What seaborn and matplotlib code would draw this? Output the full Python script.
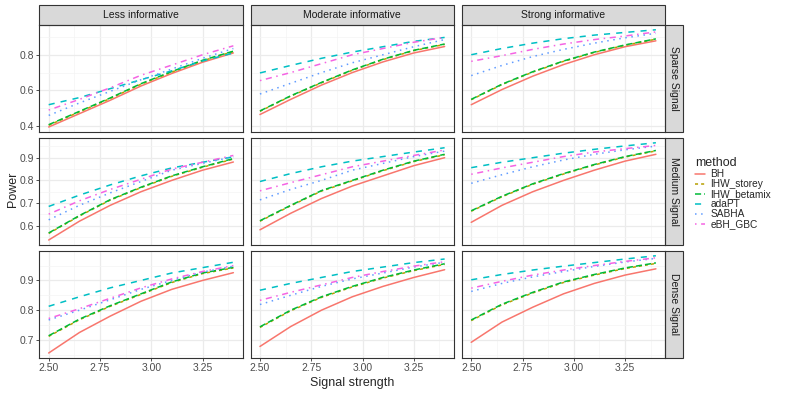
import numpy as np
import pandas as pd
import matplotlib
matplotlib.use("Agg")
import matplotlib.pyplot as plt
from matplotlib.lines import Line2D
from matplotlib.patches import Rectangle
from matplotlib.ticker import MultipleLocator, FormatStrFormatter
import seaborn as sns

# ---------------------------------------------------------------------------
# data
signal = [2.50, 2.65, 2.80, 2.95, 3.10, 3.25, 3.40]
methods = ["BH", "IHW_storey", "IHW_betamix", "adaPT", "SABHA", "eBH_GBC"]
informative = ["Less informative", "Moderate informative", "Strong informative"]
signal_types = ["Sparse Signal", "Medium Signal", "Dense Signal"]

sparse_less = {
    "BH":          [0.395, 0.470, 0.545, 0.625, 0.695, 0.758, 0.810],
    "IHW_storey":  [0.405, 0.480, 0.555, 0.635, 0.703, 0.766, 0.818],
    "IHW_betamix": [0.408, 0.483, 0.558, 0.638, 0.706, 0.769, 0.820],
    "adaPT":       [0.520, 0.560, 0.610, 0.660, 0.710, 0.765, 0.810],
    "SABHA":       [0.460, 0.530, 0.595, 0.660, 0.720, 0.780, 0.835],
    "eBH_GBC":     [0.490, 0.550, 0.615, 0.685, 0.742, 0.800, 0.850],
}
sparse_moderate = {
    "BH":          [0.465, 0.550, 0.630, 0.700, 0.760, 0.810, 0.846],
    "IHW_storey":  [0.483, 0.568, 0.643, 0.713, 0.773, 0.823, 0.858],
    "IHW_betamix": [0.485, 0.570, 0.645, 0.715, 0.775, 0.825, 0.860],
    "adaPT":       [0.698, 0.740, 0.780, 0.815, 0.845, 0.875, 0.897],
    "SABHA":       [0.580, 0.640, 0.700, 0.755, 0.800, 0.845, 0.885],
    "eBH_GBC":     [0.655, 0.700, 0.750, 0.800, 0.835, 0.870, 0.897],
}
sparse_strong = {
    "BH":          [0.520, 0.605, 0.680, 0.745, 0.800, 0.845, 0.878],
    "IHW_storey":  [0.548, 0.633, 0.703, 0.763, 0.813, 0.853, 0.887],
    "IHW_betamix": [0.550, 0.635, 0.705, 0.765, 0.815, 0.855, 0.889],
    "adaPT":       [0.800, 0.835, 0.865, 0.890, 0.910, 0.925, 0.940],
    "SABHA":       [0.683, 0.740, 0.790, 0.830, 0.865, 0.895, 0.920],
    "eBH_GBC":     [0.763, 0.795, 0.830, 0.860, 0.885, 0.905, 0.928],
}
medium_less = {
    "BH":          [0.537, 0.620, 0.690, 0.750, 0.800, 0.845, 0.881],
    "IHW_storey":  [0.566, 0.643, 0.713, 0.768, 0.818, 0.858, 0.894],
    "IHW_betamix": [0.568, 0.645, 0.715, 0.770, 0.820, 0.860, 0.896],
    "adaPT":       [0.685, 0.735, 0.780, 0.820, 0.855, 0.880, 0.904],
    "SABHA":       [0.626, 0.690, 0.745, 0.795, 0.845, 0.875, 0.904],
    "eBH_GBC":     [0.651, 0.710, 0.760, 0.805, 0.850, 0.880, 0.910],
}
medium_moderate = {
    "BH":          [0.582, 0.655, 0.720, 0.775, 0.820, 0.865, 0.900],
    "IHW_storey":  [0.620, 0.688, 0.753, 0.798, 0.843, 0.883, 0.913],
    "IHW_betamix": [0.622, 0.690, 0.755, 0.800, 0.845, 0.885, 0.915],
    "adaPT":       [0.795, 0.830, 0.860, 0.885, 0.905, 0.925, 0.944],
    "SABHA":       [0.714, 0.760, 0.800, 0.845, 0.875, 0.905, 0.929],
    "eBH_GBC":     [0.754, 0.790, 0.825, 0.860, 0.885, 0.910, 0.934],
}
medium_strong = {
    "BH":          [0.615, 0.690, 0.750, 0.800, 0.845, 0.885, 0.915],
    "IHW_storey":  [0.664, 0.728, 0.783, 0.828, 0.868, 0.903, 0.930],
    "IHW_betamix": [0.666, 0.730, 0.785, 0.830, 0.870, 0.905, 0.932],
    "adaPT":       [0.856, 0.880, 0.900, 0.920, 0.937, 0.952, 0.966],
    "SABHA":       [0.787, 0.825, 0.860, 0.890, 0.915, 0.935, 0.951],
    "eBH_GBC":     [0.827, 0.855, 0.880, 0.905, 0.925, 0.940, 0.954],
}
dense_less = {
    "BH":          [0.656, 0.725, 0.780, 0.830, 0.870, 0.900, 0.926],
    "IHW_storey":  [0.712, 0.768, 0.813, 0.853, 0.893, 0.923, 0.942],
    "IHW_betamix": [0.714, 0.770, 0.815, 0.855, 0.895, 0.925, 0.944],
    "adaPT":       [0.813, 0.845, 0.875, 0.900, 0.925, 0.943, 0.961],
    "SABHA":       [0.767, 0.800, 0.835, 0.870, 0.900, 0.928, 0.948],
    "eBH_GBC":     [0.772, 0.805, 0.840, 0.875, 0.905, 0.930, 0.950],
}
dense_moderate = {
    "BH":          [0.678, 0.745, 0.800, 0.845, 0.880, 0.910, 0.936],
    "IHW_storey":  [0.742, 0.798, 0.843, 0.878, 0.908, 0.933, 0.954],
    "IHW_betamix": [0.744, 0.800, 0.845, 0.880, 0.910, 0.935, 0.956],
    "adaPT":       [0.867, 0.890, 0.910, 0.930, 0.945, 0.960, 0.972],
    "SABHA":       [0.819, 0.850, 0.880, 0.905, 0.925, 0.945, 0.961],
    "eBH_GBC":     [0.833, 0.860, 0.885, 0.910, 0.930, 0.948, 0.963],
}
dense_strong = {
    "BH":          [0.692, 0.760, 0.810, 0.855, 0.890, 0.918, 0.939],
    "IHW_storey":  [0.765, 0.818, 0.858, 0.893, 0.918, 0.940, 0.957],
    "IHW_betamix": [0.767, 0.820, 0.860, 0.895, 0.920, 0.942, 0.959],
    "adaPT":       [0.902, 0.920, 0.935, 0.948, 0.960, 0.972, 0.983],
    "SABHA":       [0.863, 0.890, 0.912, 0.930, 0.947, 0.962, 0.974],
    "eBH_GBC":     [0.874, 0.897, 0.918, 0.935, 0.950, 0.964, 0.976],
}

panels = [
    [sparse_less, sparse_moderate, sparse_strong],
    [medium_less, medium_moderate, medium_strong],
    [dense_less, dense_moderate, dense_strong],
]

# -----------------------------------------------------------------------------
# long table for seaborn
rows = []
for r, sig in enumerate(signal_types):
    for c, inf in enumerate(informative):
        for m in methods:
            for x, y in zip(signal, panels[r][c][m]):
                rows.append((sig, inf, m, x, y))
df = pd.DataFrame(rows, columns=["signal_type", "informative", "method", "strength", "power"])

palette = dict(zip(methods, ["#F8766D", "#B79F00", "#00BA38", "#00BFC4", "#619CFF", "#F564E3"]))
dashes = {
    "BH": "",
    "IHW_storey": (2, 2),
    "IHW_betamix": (4, 2),
    "adaPT": (4, 4),
    "SABHA": (1, 3),
    "eBH_GBC": (1, 3, 4, 3),
}

# -----------------------------------------------------------------------------
sns.set_style("white")
plt.rcParams["font.family"] = ["Liberation Sans", "DejaVu Sans"]

fig, axes = plt.subplots(3, 3, figsize=(7.89, 3.95), dpi=100, sharex=True, sharey="row")
fig.subplots_adjust(left=0.050, right=0.843, top=0.937, bottom=0.094, wspace=0.04, hspace=0.056)

ytick_step = [0.2, 0.1, 0.1]

for r, sig in enumerate(signal_types):
    for c, inf in enumerate(informative):
        ax = axes[r, c]
        sub = df[(df.signal_type == sig) & (df.informative == inf)]
        sns.lineplot(data=sub, x="strength", y="power", hue="method", style="method",
                     hue_order=methods, style_order=methods, palette=palette,
                     dashes=dashes, linewidth=1.1, legend=False, ax=ax)
        ax.set_xlabel("")
        ax.set_ylabel("")
        ax.set_facecolor("white")
        ax.xaxis.set_major_locator(MultipleLocator(0.25))
        ax.xaxis.set_minor_locator(MultipleLocator(0.125))
        ax.yaxis.set_major_locator(MultipleLocator(ytick_step[r]))
        ax.yaxis.set_minor_locator(MultipleLocator(ytick_step[r] / 2))
        ax.xaxis.set_major_formatter(FormatStrFormatter("%.2f"))
        ax.yaxis.set_major_formatter(FormatStrFormatter("%.1f"))
        ax.grid(which="major", color="#EBEBEB", linewidth=0.9)
        ax.grid(which="minor", color="#F4F4F4", linewidth=0.5)
        ax.set_axisbelow(True)
        for s in ax.spines.values():
            s.set_color("#333333")
            s.set_linewidth(0.8)
        ax.tick_params(axis="both", which="major", length=2.5, width=0.6, color="#333333",
                       labelsize=7.5, labelcolor="#4D4D4D", pad=1.5, left=(c == 0), bottom=(r == 2))
        ax.tick_params(axis="both", which="minor", length=0)
        # strips
        if r == 0:
            ax.add_patch(Rectangle((0, 1), 1, 0.185, transform=ax.transAxes, clip_on=False,
                                   facecolor="#D9D9D9", edgecolor="#333333", linewidth=0.8))
            ax.text(0.5, 1.0925, inf, transform=ax.transAxes, ha="center", va="center",
                    fontsize=7.5, color="#1A1A1A")
        if c == 2:
            ax.add_patch(Rectangle((1, 0), 0.088, 1, transform=ax.transAxes, clip_on=False,
                                   facecolor="#D9D9D9", edgecolor="#333333", linewidth=0.8))
            ax.text(1.044, 0.5, sig, transform=ax.transAxes, ha="center", va="center",
                    rotation=-90, fontsize=7.5, color="#1A1A1A")

fig.text(0.446, 0.030, "Signal strength", ha="center", va="center", fontsize=9)
fig.text(0.016, 0.52, "Power", ha="center", va="center", rotation=90, fontsize=9)

handles = [Line2D([], [], color=palette[m], linewidth=1.1,
                  dashes=dashes[m] if dashes[m] else (None, None)) for m in methods]
leg = fig.legend(handles, methods, title="method", loc="upper left",
                 bbox_to_anchor=(0.876, 0.612), frameon=False, fontsize=7.3,
                 title_fontsize=9, handlelength=1.0, handletextpad=0.5,
                 labelspacing=0.0, borderaxespad=0)
leg._legend_box.align = "left"

fig.savefig("out.png", dpi=100)
